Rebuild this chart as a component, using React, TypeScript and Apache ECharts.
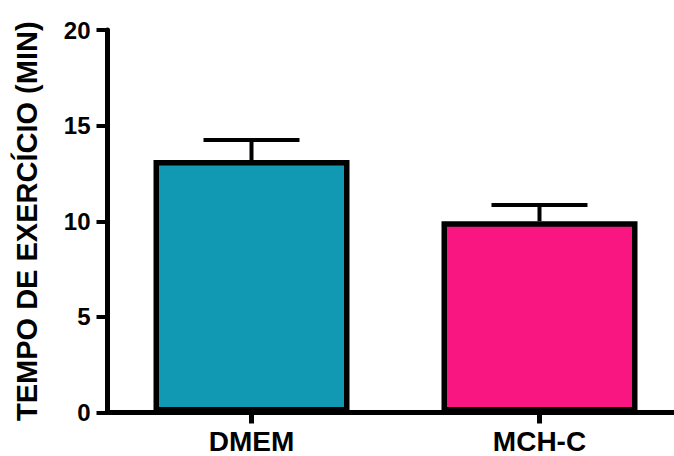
import React, { useEffect, useRef } from "react";
import * as echarts from "echarts";

const categories = ["DMEM", "MCH-C"];
const means = [13.2, 10.0];
const errors = [1.05, 0.85];
const barColors = ["#1199B4", "#F91681"];
const yTicks = [0, 5, 10, 15, 20];

export default function App() {
  const ref = useRef<HTMLDivElement>(null);
  useEffect(() => {
    if (!ref.current) return;
    const chart = echarts.init(ref.current, undefined, { renderer: "svg" });
    const font = "'Liberation Sans', Arial, sans-serif";
    chart.setOption({
      animation: false,
      grid: { left: 107.5, top: 30, width: 576, height: 382.5, containLabel: false, outerBoundsMode: "none" },
      xAxis: {
        type: "category",
        data: categories,
        boundaryGap: true,
        axisLine: { show: true, lineStyle: { color: "#000", width: 5 } },
        axisTick: { show: true, alignWithLabel: true, length: 11, lineStyle: { color: "#000", width: 5 } },
        axisLabel: { color: "#000", fontFamily: font, fontWeight: "bold", fontSize: 28, margin: 15 },
        splitLine: { show: false },
      },
      yAxis: {
        type: "value",
        min: yTicks[0],
        max: yTicks[yTicks.length - 1],
        interval: 5,
        name: "TEMPO DE EXERCÍCIO (MIN)",
        nameLocation: "middle",
        nameRotate: 90,
        nameGap: 66,
        nameTextStyle: { color: "#000", fontFamily: font, fontWeight: "bold", fontSize: 29 },
        axisLine: { show: true, lineStyle: { color: "#000", width: 5 } },
        axisTick: { show: true, length: 11, lineStyle: { color: "#000", width: 4 } },
        axisLabel: { color: "#000", fontFamily: font, fontWeight: "bold", fontSize: 24, margin: 17 },
        splitLine: { show: false },
      },
      series: [
        {
          type: "bar",
          data: means.map((v, i) => ({
            value: v,
            itemStyle: { color: barColors[i], borderColor: "#000", borderWidth: 5.5 },
          })),
          barWidth: 196,
          z: 2,
        },
        {
          type: "custom",
          z: 1,
          data: means.map((v, i) => [i, v, v + errors[i]]),
          renderItem: (params: any, api: any) => {
            const x = api.value(0);
            const base = api.coord([x, api.value(1)]);
            const top = api.coord([x, api.value(2)]);
            const half = 48;
            return {
              type: "group",
              children: [
                {
                  type: "line",
                  shape: { x1: base[0], y1: base[1], x2: top[0], y2: top[1] },
                  style: { stroke: "#000", lineWidth: 4 },
                },
                {
                  type: "line",
                  shape: { x1: top[0] - half, y1: top[1], x2: top[0] + half, y2: top[1] },
                  style: { stroke: "#000", lineWidth: 4 },
                },
              ],
            };
          },
        },
      ],
    });
    return () => chart.dispose();
  }, []);
  return <div ref={ref} style={{ width: 674, height: 456, position: "absolute", left: 0, top: 0 }} />;
}
